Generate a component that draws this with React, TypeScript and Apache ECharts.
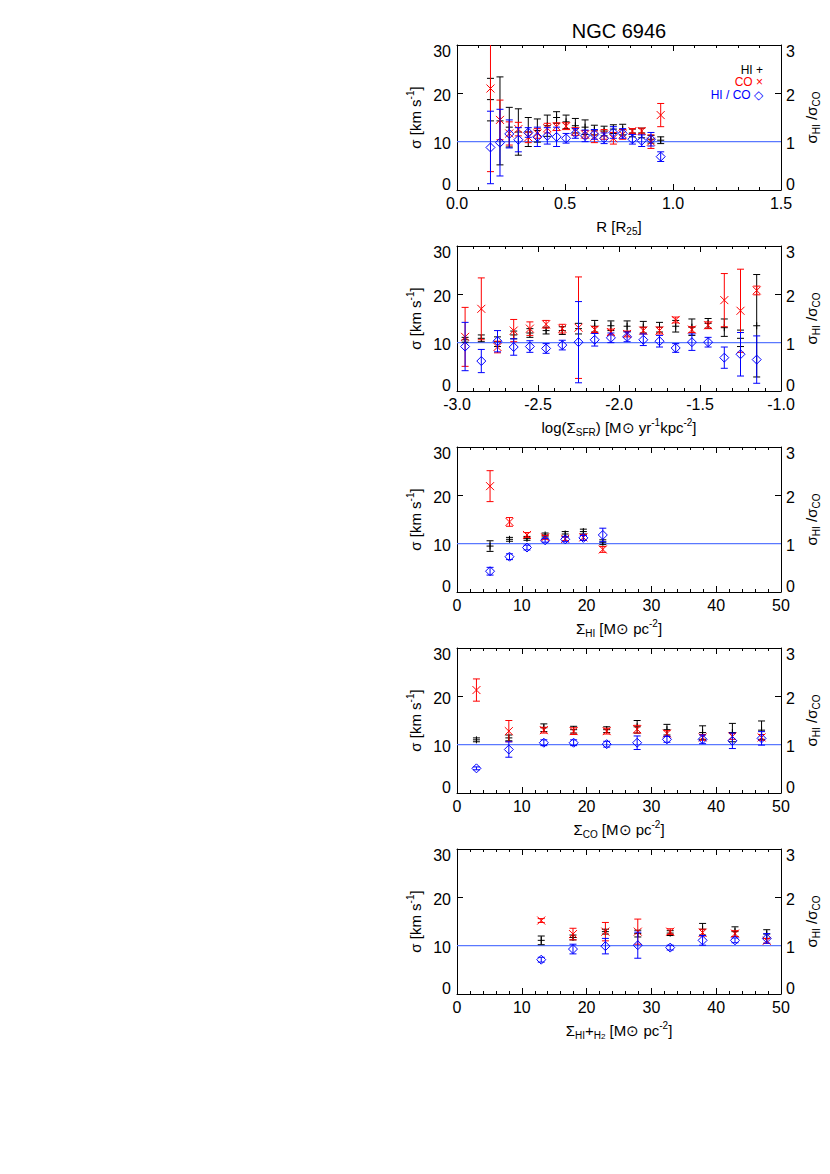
import React, { useEffect, useRef } from 'react';
import * as echarts from 'echarts';

// ---------- Panel 1: R [R25] ----------
const rBins = [0.155, 0.199, 0.242, 0.284, 0.330, 0.372, 0.418, 0.461, 0.505, 0.548, 0.593, 0.636, 0.681, 0.724, 0.767, 0.812, 0.855, 0.898, 0.943];
const rHI = [18.7, 14.3, 13.0, 12.0, 12.0, 12.3, 13.3, 15.0, 14.1, 13.3, 13.0, 12.4, 12.2, 12.6, 12.5, 11.8, 11.8, 10.5, 10.3];
const rHIerr = [4.4, 9.1, 4.1, 4.8, 3.0, 2.4, 2.2, 1.2, 1.4, 1.5, 1.5, 1.0, 1.0, 0.9, 1.1, 0.8, 1.0, 0.8, 0.7];
const rCO = [21.0, 14.5, 11.7, 12.6, 10.9, 11.7, 12.8, 13.1, 13.2, 12.1, 11.5, 11.0, 11.5, 10.7, 11.5, 12.2, 12.2, 10.0, 15.5];
const rCOerr = [17.2, 4.1, 2.4, 1.4, 1.1, 1.0, 1.0, 0.8, 0.7, 0.8, 0.8, 1.2, 1.0, 1.2, 1.0, 0.5, 0.6, 1.4, 2.4];
const rRatio = [0.88, 0.98, 1.16, 1.04, 1.19, 1.10, 1.12, 1.10, 1.07, 1.17, 1.12, 1.15, 1.07, 1.19, 1.17, 1.05, 1.02, 1.05, 0.69];
const rRatioErr = [0.75, 0.69, 0.29, 0.25, 0.10, 0.20, 0.17, 0.20, 0.10, 0.10, 0.12, 0.10, 0.11, 0.12, 0.10, 0.10, 0.12, 0.14, 0.10];

// ---------- Panel 2: log(Sigma_SFR) ----------
const sBins = [-2.95, -2.85, -2.75, -2.65, -2.55, -2.45, -2.35, -2.25, -2.15, -2.05, -1.95, -1.85, -1.75, -1.65, -1.55, -1.45, -1.35, -1.25, -1.15];
const sHI = [10.6, 10.9, 10.2, 11.6, 12.0, 12.5, 12.5, 12.9, 13.4, 13.5, 13.4, 13.2, 13.2, 13.4, 13.2, 14.0, 13.1, 10.9, 13.5];
const sHIerr = [0.5, 0.7, 1.0, 0.8, 0.9, 0.7, 0.8, 1.1, 1.2, 1.0, 1.1, 1.2, 1.0, 1.2, 1.7, 1.0, 1.8, 1.7, 10.6];
const sCO = [11.2, 17.0, 9.1, 12.5, 12.9, 13.8, 12.9, 13.1, 12.7, 12.2, 11.8, 12.5, 12.5, 14.7, 12.7, 13.6, 18.8, 16.6, 20.8];
const sCOerr = [6.1, 6.4, 1.2, 2.3, 1.4, 0.8, 0.9, 10.5, 0.6, 0.6, 0.6, 0.7, 0.7, 0.6, 0.6, 0.7, 5.5, 8.6, 0.9];
const sRatio = [0.92, 0.62, 1.03, 0.91, 0.92, 0.88, 0.95, 1.01, 1.06, 1.10, 1.12, 1.06, 1.03, 0.89, 1.01, 1.01, 0.69, 0.76, 0.65];
const sRatioErr = [0.50, 0.24, 0.22, 0.17, 0.12, 0.10, 0.10, 0.84, 0.13, 0.10, 0.10, 0.12, 0.12, 0.09, 0.17, 0.10, 0.22, 0.45, 0.49];

// ---------- Panel 3: Sigma_HI ----------
const hBins = [5.1, 8.1, 10.8, 13.6, 16.7, 19.5, 22.5];
const hHI = [9.5, 10.9, 11.1, 11.8, 12.0, 12.5, 10.3];
const hHIerr = [1.1, 0.4, 0.4, 0.4, 0.5, 0.5, 0.5];
const hCO = [21.9, 14.5, 11.8, 11.3, 11.0, 11.3, 8.8];
const hCOerr = [3.2, 0.9, 0.5, 0.4, 0.4, 0.6, 0.6];
const hRatio = [0.43, 0.73, 0.92, 1.07, 1.09, 1.12, 1.18];
const hRatioErr = [0.08, 0.06, 0.05, 0.04, 0.05, 0.05, 0.14];

// ---------- Panel 4: Sigma_CO ----------
const cBins = [3.0, 8.0, 13.4, 18.0, 23.1, 27.8, 32.4, 37.9, 42.5, 47.0];
const cHI = [11.0, 11.4, 13.5, 13.1, 13.1, 13.7, 13.1, 12.5, 12.5, 13.0];
const cHIerr = [0.4, 0.6, 0.8, 0.7, 0.6, 1.3, 1.1, 1.4, 1.9, 1.9];
const cCO = [21.3, 12.8, 13.0, 12.8, 12.8, 13.2, 12.3, 11.5, 11.7, 11.5];
const cCOerr = [2.3, 2.2, 0.6, 0.7, 0.6, 0.8, 0.6, 0.6, 0.6, 0.6];
const cRatio = [0.51, 0.90, 1.04, 1.04, 1.01, 1.04, 1.11, 1.11, 1.08, 1.13];
const cRatioErr = [0.03, 0.16, 0.06, 0.06, 0.06, 0.14, 0.06, 0.09, 0.16, 0.14];

// ---------- Panel 5: Sigma_HI+H2 ----------
const tBins = [13.0, 17.9, 22.9, 27.9, 32.9, 37.9, 42.9, 47.8];
const tHI = [11.1, 11.7, 12.9, 12.5, 12.6, 13.4, 12.9, 12.4];
const tHIerr = [0.9, 0.5, 0.5, 0.7, 0.5, 1.2, 1.0, 0.9];
const tCO = [15.2, 12.4, 12.9, 12.9, 12.9, 12.7, 12.5, 11.0];
const tCOerr = [0.4, 1.2, 1.9, 2.6, 0.6, 0.7, 0.6, 0.5];
const tRatio = [0.71, 0.93, 0.99, 1.01, 0.96, 1.11, 1.11, 1.15];
const tRatioErr = [0.05, 0.10, 0.16, 0.27, 0.05, 0.10, 0.05, 0.10];

// axis settings
const xRanges = [[0, 1.5, 0.5], [-3, -1, 0.5], [0, 50, 10], [0, 50, 10], [0, 50, 10]];
const xDecimals = [1, 1, 0, 0, 0];
const yTicksLeft = [0, 30, 10];
const yTicksRight = [0, 3, 1];
const legendLabels = ['HI +', 'CO \u00d7', 'HI / CO \u25c7'];
const titleText = 'NGC 6946';

const FONT = "'Liberation Sans', Arial, Helvetica, sans-serif";
const BLACK = '#000000';
const RED = '#ff0000';
const BLUE = '#0000ff';
const REFBLUE = '#5a78ff';

const GRID_LEFT = 457;
const GRID_WIDTH = 324;
const GRID_HEIGHT = 145;
const GRID_TOPS = [45, 246, 447, 648, 849];

const xNames = [
  '{n|R [R}{s|25}{n|]}',
  '{n|log(\u03a3}{s|SFR}{n|) [M\u2299 yr}{p|-1}{n|kpc}{p|-2}{n|]}',
  '{n|\u03a3}{s|HI}{n| [M\u2299 pc}{p|-2}{n|]}',
  '{n|\u03a3}{s|CO}{n| [M\u2299 pc}{p|-2}{n|]}',
  '{n|\u03a3}{s|HI}{n|+}{s|H}{ss|2}{n| [M\u2299 pc}{p|-2}{n|]}',
];
const yLeftName = '{n|\u03c3 [km s}{p|-1}{n|]}';
const yRightName = '{n|\u03c3}{s|HI}{n| /\u03c3}{s|CO}';

const rich = {
  n: { fontSize: 15, fontFamily: FONT, color: '#000', lineHeight: 20, verticalAlign: 'middle' },
  s: { fontSize: 10, fontFamily: FONT, color: '#000', lineHeight: 12, verticalAlign: 'bottom' },
  p: { fontSize: 10, fontFamily: FONT, color: '#000', lineHeight: 12, verticalAlign: 'top' },
  ss: { fontSize: 8, fontFamily: FONT, color: '#000', lineHeight: 8, verticalAlign: 'bottom' },
};

const tickRich = {
  b: { fontSize: 16, fontFamily: FONT, color: '#000', padding: [0, 0, 11, 0] },
  t: { fontSize: 16, fontFamily: FONT, color: '#000', padding: [12, 0, 0, 0] },
  m: { fontSize: 16, fontFamily: FONT, color: '#000', padding: [4, 0, 0, 0] },
};

const panels = [
  { x: rBins, hi: rHI, hiE: rHIerr, co: rCO, coE: rCOerr, ra: rRatio, raE: rRatioErr },
  { x: sBins, hi: sHI, hiE: sHIerr, co: sCO, coE: sCOerr, ra: sRatio, raE: sRatioErr },
  { x: hBins, hi: hHI, hiE: hHIerr, co: hCO, coE: hCOerr, ra: hRatio, raE: hRatioErr },
  { x: cBins, hi: cHI, hiE: cHIerr, co: cCO, coE: cCOerr, ra: cRatio, raE: cRatioErr },
  { x: tBins, hi: tHI, hiE: tHIerr, co: tCO, coE: tCOerr, ra: tRatio, raE: tRatioErr },
];

function errSeries(xAxisIndex: number, yAxisIndex: number, xs: number[], ys: number[], es: number[], kind: string, color: string) {
  const data = xs.map((x, i) => [x, ys[i], es[i]]);
  return {
    type: 'custom',
    xAxisIndex,
    yAxisIndex,
    encode: { x: 0, y: 1 },
    data,
    z: 3,
    renderItem: (params: any, api: any) => {
      const x = api.value(0);
      const y = api.value(1);
      const e = api.value(2);
      const c = api.coord([x, y]);
      const top = api.coord([x, y + e])[1];
      const bot = api.coord([x, y - e])[1];
      const cs = params.coordSys;
      const yMin = cs.y;
      const yMax = cs.y + cs.height;
      const t = Math.max(top, yMin);
      const b = Math.min(bot, yMax);
      const st = { stroke: color, lineWidth: 1, fill: null };
      const cw = 3.5;
      const children: any[] = [];
      children.push({ type: 'line', shape: { x1: c[0], y1: t, x2: c[0], y2: b }, style: st });
      if (top >= yMin) children.push({ type: 'line', shape: { x1: c[0] - cw, y1: top, x2: c[0] + cw, y2: top }, style: st });
      if (bot <= yMax) children.push({ type: 'line', shape: { x1: c[0] - cw, y1: bot, x2: c[0] + cw, y2: bot }, style: st });
      if (kind === 'plus') {
        const h = 3.5;
        children.push({ type: 'line', shape: { x1: c[0] - h, y1: c[1], x2: c[0] + h, y2: c[1] }, style: st });
        children.push({ type: 'line', shape: { x1: c[0], y1: c[1] - h, x2: c[0], y2: c[1] + h }, style: st });
      } else if (kind === 'cross') {
        const h = 4;
        children.push({ type: 'line', shape: { x1: c[0] - h, y1: c[1] - h, x2: c[0] + h, y2: c[1] + h }, style: st });
        children.push({ type: 'line', shape: { x1: c[0] - h, y1: c[1] + h, x2: c[0] + h, y2: c[1] - h }, style: st });
      } else {
        const h = 4.5;
        children.push({
          type: 'polygon',
          shape: { points: [[c[0], c[1] - h], [c[0] + h, c[1]], [c[0], c[1] + h], [c[0] - h, c[1]]] },
          style: { stroke: color, lineWidth: 1, fill: 'none' },
        });
      }
      return { type: 'group', children };
    },
  };
}

function yLabelFormatter(minV: number, maxV: number) {
  return (v: number) => {
    const s = String(v);
    if (v === minV) return '{b|' + s + '}';
    if (v === maxV) return '{t|' + s + '}';
    return '{m|' + s + '}';
  };
}

function buildOption() {
  const grid: any[] = [];
  const xAxis: any[] = [];
  const yAxis: any[] = [];
  const series: any[] = [];

  panels.forEach((p, i) => {
    grid.push({ left: GRID_LEFT, top: GRID_TOPS[i], width: GRID_WIDTH, height: GRID_HEIGHT, outerBoundsMode: 'none', containLabel: false });
    const [xmin, xmax, xint] = xRanges[i];
    const dec = xDecimals[i];
    const common = {
      type: 'value',
      gridIndex: i,
      min: xmin,
      max: xmax,
      interval: xint,
      axisLine: { show: true, onZero: false, lineStyle: { color: '#000', width: 1 } },
      axisTick: { show: true, inside: true, length: 6, lineStyle: { color: '#000', width: 1 } },
      minorTick: { show: true, splitNumber: 5, length: 3, lineStyle: { color: '#000', width: 1 } },
      splitLine: { show: false },
      minorSplitLine: { show: false },
    };
    xAxis.push({
      ...common,
      position: 'bottom',
      axisLabel: {
        show: true, margin: 5, fontSize: 16, fontFamily: FONT, color: '#000',
        formatter: (v: number) => v.toFixed(dec),
      },
      name: xNames[i],
      nameLocation: 'middle',
      nameGap: 26,
      nameTextStyle: { rich },
    });
    xAxis.push({
      ...common,
      position: 'top',
      axisLabel: { show: false },
    });
    const yCommon = {
      type: 'value',
      gridIndex: i,
      axisLine: { show: true, onZero: false, lineStyle: { color: '#000', width: 1 } },
      axisTick: { show: true, inside: true, length: 6, lineStyle: { color: '#000', width: 1 } },
      splitLine: { show: false },
      nameLocation: 'middle',
      nameRotate: 90,
      nameTextStyle: { rich },
    };
    yAxis.push({
      ...yCommon,
      position: 'left',
      min: yTicksLeft[0], max: yTicksLeft[1], interval: yTicksLeft[2],
      axisLabel: { margin: 6, fontSize: 16, fontFamily: FONT, color: '#000', formatter: yLabelFormatter(yTicksLeft[0], yTicksLeft[1]), rich: tickRich },
      name: yLeftName,
      nameGap: 32,
    });
    yAxis.push({
      ...yCommon,
      position: 'right',
      min: yTicksRight[0], max: yTicksRight[1], interval: yTicksRight[2],
      axisLabel: { margin: 5, fontSize: 16, fontFamily: FONT, color: '#000', formatter: yLabelFormatter(yTicksRight[0], yTicksRight[1]), rich: tickRich },
      name: yRightName,
      nameGap: 20,
    });

    const xi = i * 2;
    const yl = i * 2;
    const yr = i * 2 + 1;
    series.push({
      type: 'line',
      xAxisIndex: xi,
      yAxisIndex: yr,
      data: [[xmin, 1], [xmax, 1]],
      symbol: 'none',
      lineStyle: { color: REFBLUE, width: 1.3 },
      z: 1,
      silent: true,
    });
    series.push(errSeries(xi, yl, p.x, p.hi, p.hiE, 'plus', BLACK));
    series.push(errSeries(xi, yl, p.x, p.co, p.coE, 'cross', RED));
    series.push(errSeries(xi, yr, p.x, p.ra, p.raE, 'diamond', BLUE));
  });

  const legendColors = [BLACK, RED, BLUE];
  const graphic: any[] = [
    {
      type: 'text', x: GRID_LEFT + GRID_WIDTH / 2, y: 31,
      style: { text: titleText, fontSize: 20, fontFamily: FONT, fill: '#000', align: 'center', verticalAlign: 'middle' },
    },
  ];
  legendLabels.forEach((t, k) => {
    graphic.push({
      type: 'text',
      x: 763,
      y: 70 + k * 12.4,
      style: { text: t, fontSize: 12, lineHeight: 12, fontFamily: FONT, fill: legendColors[k], align: 'right', verticalAlign: 'middle' },
    });
  });

  return { animation: false, backgroundColor: '#fff', grid, xAxis, yAxis, series, graphic };
}

export default function App() {
  const ref = useRef<HTMLDivElement>(null);
  useEffect(() => {
    document.body.style.margin = '0';
    if (!ref.current) return;
    const chart = echarts.init(ref.current, null, { renderer: 'svg' });
    chart.setOption(buildOption() as any);
    return () => chart.dispose();
  }, []);
  return <div ref={ref} style={{ width: 830, height: 1174 }} />;
}
